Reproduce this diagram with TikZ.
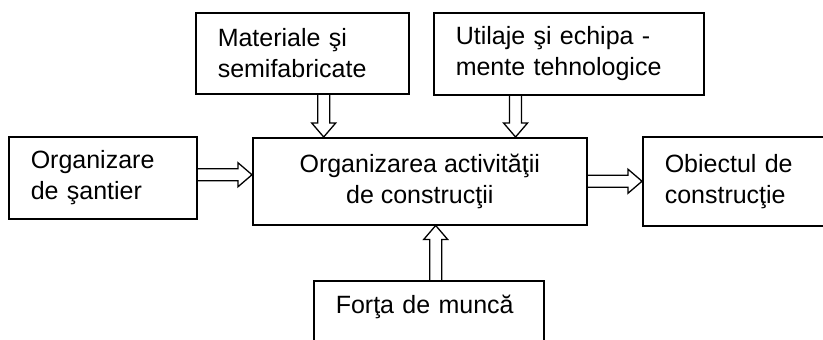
\documentclass[tikz,border=0pt]{standalone}
\usepackage{fontspec}
\setmainfont{Liberation Sans}
\usetikzlibrary{calc}

\begin{document}
\begin{tikzpicture}[x=1pt,y=-1pt,
				box/.style={draw,rectangle,line width=1.5pt,anchor=north west,inner ysep=0pt,
					font=\fontsize{25}{31}\selectfont},
				lbox/.style={box,align=left,inner xsep=22pt,text width=#1-44pt,minimum width=#1},
				blockarrow/.style={draw,line width=1.3pt,to path={
					($(\tikztotarget)!14pt!(\tikztostart)$) coordinate (ab)
					($(\tikztostart)!6pt!90:(\tikztotarget)$) -- ($(ab)!6pt!90:(\tikztotarget)$)
					-- ($(ab)!12pt!90:(\tikztotarget)$) -- (\tikztotarget)
					-- ($(ab)!12pt!-90:(\tikztotarget)$) -- ($(ab)!6pt!-90:(\tikztotarget)$)
					-- ($(\tikztostart)!6pt!-90:(\tikztotarget)$)}}]
				\useasboundingbox (0,0) rectangle (823,340);
				\clip (0,0) rectangle (823,340);

				\node (MAT)   [lbox=213pt,minimum height=81pt] at (195,12)  {Materiale şi\\semifabricate};
				\node (UTIL)  [lbox=270pt,minimum height=82pt] at (433,12)  {Utilaje şi echipa -\\mente tehnologice};
				\node (ORG)   [lbox=188pt,minimum height=82pt] at (8,136)   {Organizare\\de şantier};
				\node (MAIN)  [box,align=center,minimum width=334pt,minimum height=87pt] at (252,137)
					{Organizarea activităţii\\de construcţii};
				\node (OBJ)   [lbox=200pt,minimum height=89pt] at (642,136) {Obiectul de\\construcţie};
				\node (FORTA) [lbox=230pt,minimum height=81pt,text depth=34pt] at (313,280) {Forţa de muncă};

				\coordinate (MAT1)   at ($(MAT.south west)!0.6!(MAT.south east)$);
				\coordinate (MAT2)   at (MAT1 |- MAIN.north);
				\coordinate (UTIL1)  at ($(UTIL.south west)!0.304!(UTIL.south east)$);
				\coordinate (UTIL2)  at (UTIL1 |- MAIN.north);
				\coordinate (ORG1)   at ([yshift=3pt]ORG.east);
				\coordinate (ORG2)   at (ORG1 -| MAIN.west);
				\coordinate (OBJ1)   at (MAIN.east);
				\coordinate (OBJ2)   at (OBJ1 -| OBJ.west);
				\coordinate (FORTA1) at ($(FORTA.north west)!0.53!(FORTA.north east)$);
				\coordinate (FORTA2) at (FORTA1 |- MAIN.south);

				\draw[blockarrow] (MAT1) to (MAT2);
				\draw[blockarrow] (UTIL1) to (UTIL2);
				\draw[blockarrow] (ORG1) to (ORG2);
				\draw[blockarrow] (OBJ1) to (OBJ2);
				\draw[blockarrow] (FORTA1) to (FORTA2);
			\end{tikzpicture}
\end{document}
